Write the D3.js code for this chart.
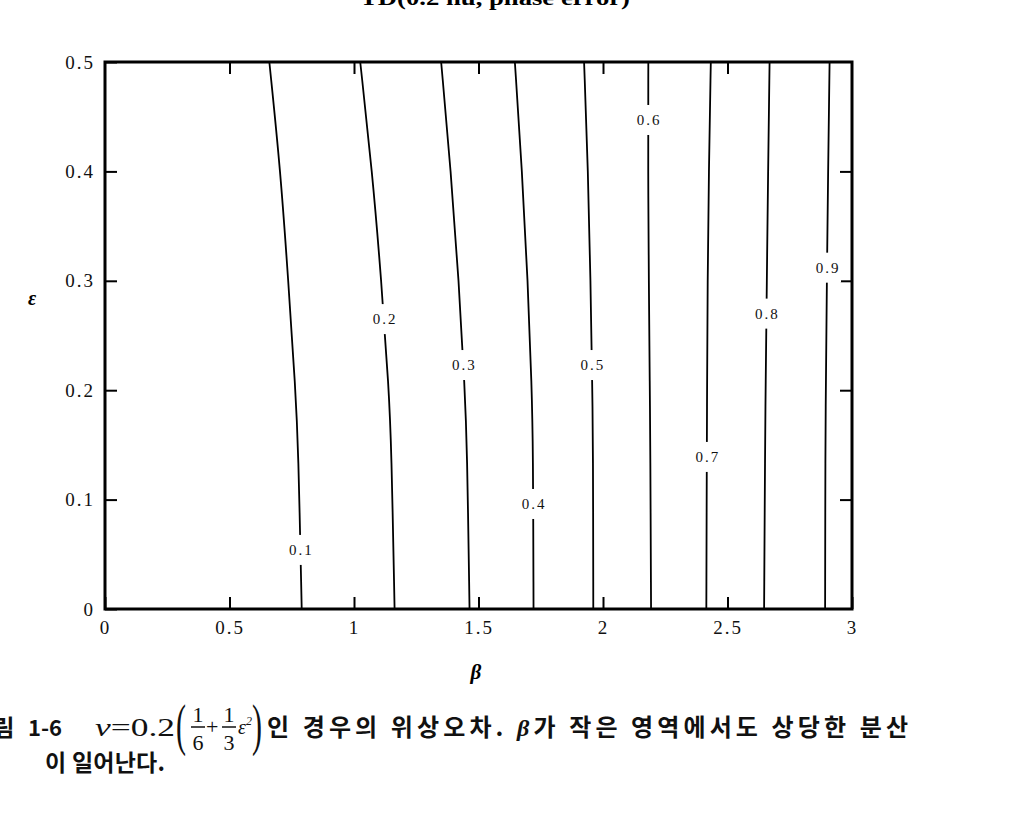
<!DOCTYPE html>
<html>
<head>
<meta charset="utf-8">
<script src="https://cdn.jsdelivr.net/npm/d3@7"></script>
<style>
  body { margin: 0; background: #fff; }
  svg { display: block; }
</style>
</head>
<body>
<script>
'use strict';

// contour levels and their beta position at each sampled epsilon
var levels = [0.1, 0.2, 0.3, 0.4, 0.5, 0.6, 0.7, 0.8, 0.9];
var epsSamples = [0, 0.15, 0.2, 0.3, 0.4, 0.5];
var contourBeta = [
    [0.790, 0.776, 0.765, 0.736, 0.705, 0.660],
    [1.163, 1.150, 1.140, 1.110, 1.073, 1.025],
    [1.464, 1.454, 1.445, 1.421, 1.389, 1.350],
    [1.721, 1.719, 1.714, 1.698, 1.675, 1.646],
    [1.961, 1.960, 1.957, 1.950, 1.940, 1.924],
    [2.193, 2.190, 2.188, 2.184, 2.181, 2.182],
    [2.415, 2.417, 2.418, 2.420, 2.425, 2.433],
    [2.647, 2.651, 2.653, 2.658, 2.663, 2.669],
    [2.892, 2.893, 2.895, 2.899, 2.904, 2.910]
];
// epsilon where each contour carries its label
var labelEps = [0.054, 0.265, 0.223, 0.096, 0.223, 0.447, 0.139, 0.270, 0.312];

var xTicks = [0, 0.5, 1, 1.5, 2, 2.5, 3];
var yTicks = [0, 0.1, 0.2, 0.3, 0.4, 0.5];
var xInnerTicks = [0.5, 1, 1.5, 2, 2.5];
var yInnerTicks = [0.1, 0.2, 0.3, 0.4];

var width = 1033, height = 819;
var serif = '"Liberation Serif", "DejaVu Serif", serif';
var hangul = '"Noto Sans CJK KR", sans-serif';

var svg = d3.select('body')
    .append('svg')
    .attr('width', width)
    .attr('height', height)
    .style('background', '#fff');

var x = d3.scaleLinear().domain([0, 3]).range([105, 852]);
var y = d3.scaleLinear().domain([0, 0.5]).range([609, 62]);

// title, cut off at the top of the page
svg.append('text')
    .attr('x', 495)
    .attr('y', 5)
    .attr('text-anchor', 'middle')
    .attr('textLength', 270)
    .attr('lengthAdjust', 'spacingAndGlyphs')
    .style('font-family', serif)
    .style('font-weight', 'bold')
    .style('font-size', '21px')
    .text('TD(0.2 nu, phase error)');

function styleAxis(g) {
    g.select('.domain').remove();
    g.selectAll('.tick line').attr('stroke', '#000').attr('stroke-width', 2);
    g.selectAll('.tick text')
        .attr('fill', '#111')
        .style('font-family', serif)
        .style('font-size', '19px')
        .style('letter-spacing', '2px');
}

var fmt = function (d) { return String(d); };

svg.append('g')
    .attr('transform', 'translate(0,' + y(0) + ')')
    .call(d3.axisBottom(x).tickValues(xTicks).tickSize(-12).tickPadding(12).tickFormat(fmt))
    .call(styleAxis);

svg.append('g')
    .attr('transform', 'translate(' + x(0) + ',0)')
    .call(d3.axisLeft(y).tickValues(yTicks).tickSize(-12).tickPadding(10).tickFormat(fmt))
    .call(styleAxis);

svg.append('g')
    .attr('transform', 'translate(0,' + y(0.5) + ')')
    .call(d3.axisTop(x).tickValues(xInnerTicks).tickSize(-12).tickFormat(''))
    .call(styleAxis);

svg.append('g')
    .attr('transform', 'translate(' + x(3) + ',0)')
    .call(d3.axisRight(y).tickValues(yInnerTicks).tickSize(-12).tickFormat(''))
    .call(styleAxis);

// contour lines
var line = d3.line()
    .x(function (d) { return x(d[0]); })
    .y(function (d) { return y(d[1]); })
    .curve(d3.curveBasis);

svg.append('g')
    .selectAll('path')
    .data(contourBeta)
    .enter()
    .append('path')
    .attr('d', function (row) {
        return line(row.map(function (b, j) { return [b, epsSamples[j]]; }));
    })
    .attr('fill', 'none')
    .attr('stroke', '#000')
    .attr('stroke-width', 1.8);

// inline labels with a gap in the line
var labels = svg.append('g')
    .selectAll('g')
    .data(levels)
    .enter()
    .append('g')
    .attr('transform', function (d, i) {
        var b = d3.scaleLinear().domain(epsSamples).range(contourBeta[i])(labelEps[i]);
        return 'translate(' + x(b) + ',' + y(labelEps[i]) + ')';
    });

labels.append('rect')
    .attr('x', -14).attr('y', -15)
    .attr('width', 28).attr('height', 30)
    .attr('fill', '#fff');

labels.append('text')
    .attr('text-anchor', 'middle')
    .attr('dx', 1)
    .attr('dy', '0.35em')
    .style('font-family', serif)
    .style('font-size', '15px')
    .style('letter-spacing', '2px')
    .attr('fill', '#111')
    .text(function (d) { return String(d); });

// frame
svg.append('rect')
    .attr('x', x(0)).attr('y', y(0.5))
    .attr('width', x(3) - x(0))
    .attr('height', y(0) - y(0.5))
    .attr('fill', 'none')
    .attr('stroke', '#000')
    .attr('stroke-width', 3);

// axis titles
svg.append('text')
    .attr('x', 476).attr('y', 679)
    .attr('text-anchor', 'middle')
    .style('font-family', serif)
    .style('font-style', 'italic')
    .style('font-weight', 'bold')
    .style('font-size', '21px')
    .text('β');

svg.append('text')
    .attr('x', 32).attr('y', 305)
    .attr('text-anchor', 'middle')
    .style('font-family', serif)
    .style('font-style', 'italic')
    .style('font-weight', 'bold')
    .style('font-size', '20px')
    .text('ε');

// caption
var cap = svg.append('g').attr('fill', '#111');

cap.append('text')
    .attr('x', -28).attr('y', 736)
    .style('font-family', hangul)
    .style('font-weight', 'bold')
    .style('font-size', '23px')
    .text('그림');

cap.append('text')
    .attr('x', 28).attr('y', 736)
    .attr('textLength', 34)
    .style('font-family', hangul)
    .style('font-weight', 'bold')
    .style('font-size', '22px')
    .text('1-6');

cap.append('text')
    .attr('x', 95).attr('y', 736)
    .attr('textLength', 80)
    .attr('lengthAdjust', 'spacingAndGlyphs')
    .style('font-family', serif)
    .style('font-size', '25px')
    .html('<tspan font-style="italic">ν</tspan>=0.2');

cap.append('text')
    .attr('x', 176).attr('y', 744)
    .attr('transform', 'translate(176,744) scale(1,1.9) translate(-176,-744)')
    .style('font-family', serif)
    .style('font-size', '30px')
    .text('(');

cap.append('text')
    .attr('x', 252).attr('y', 744)
    .attr('transform', 'translate(252,744) scale(1,1.9) translate(-252,-744)')
    .style('font-family', serif)
    .style('font-size', '30px')
    .text(')');

var fracs = [[198, '1', '6'], [229, '1', '3']];
fracs.forEach(function (f) {
    cap.append('text').attr('x', f[0]).attr('y', 722).attr('text-anchor', 'middle')
        .style('font-family', serif).style('font-size', '22px').text(f[1]);
    cap.append('line').attr('x1', f[0] - 7).attr('x2', f[0] + 7)
        .attr('y1', 727).attr('y2', 727).attr('stroke', '#111').attr('stroke-width', 1.5);
    cap.append('text').attr('x', f[0]).attr('y', 750).attr('text-anchor', 'middle')
        .style('font-family', serif).style('font-size', '22px').text(f[2]);
});

cap.append('text')
    .attr('x', 206).attr('y', 734)
    .style('font-family', serif).style('font-size', '22px')
    .text('+');

cap.append('text')
    .attr('x', 238).attr('y', 734)
    .style('font-family', serif).style('font-size', '20px').style('font-style', 'italic')
    .html('ε<tspan dy="-9" font-size="12px">2</tspan>');

cap.append('text')
    .attr('x', 267).attr('y', 736)
    .attr('textLength', 641)
    .attr('lengthAdjust', 'spacing')
    .style('font-family', hangul)
    .style('font-weight', 'bold')
    .style('font-size', '24px')
    .html('인 경우의 위상오차. <tspan font-family=\'"Liberation Serif", serif\' font-style="italic">β</tspan>가 작은 영역에서도 상당한 분산');

cap.append('text')
    .attr('x', 45).attr('y', 771)
    .attr('textLength', 120)
    .attr('lengthAdjust', 'spacing')
    .style('font-family', hangul)
    .style('font-weight', 'bold')
    .style('font-size', '23px')
    .text('이 일어난다.');
</script>
</body>
</html>
